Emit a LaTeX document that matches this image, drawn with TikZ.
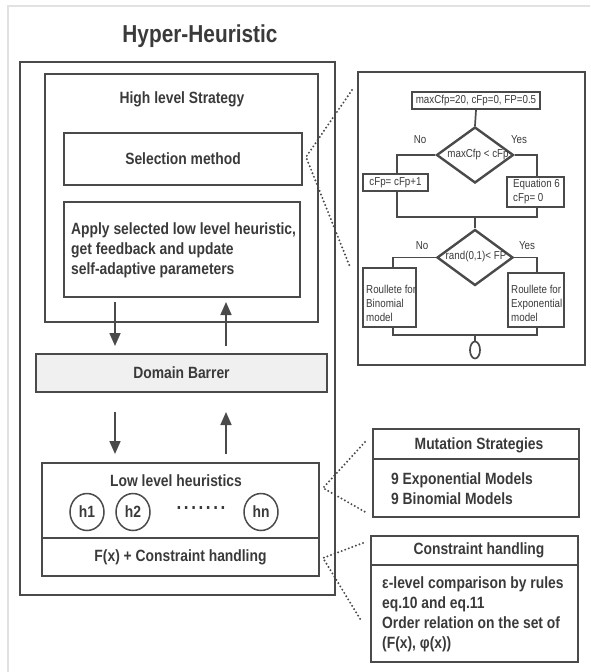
\documentclass[tikz,border=0pt]{standalone}
\usepackage{fontspec}
\setmainfont{Liberation Sans}[FakeStretch=0.85]
\usetikzlibrary{arrows.meta,shapes.geometric}
\definecolor{ln}{HTML}{4A4A4A}
\definecolor{tx}{HTML}{3A3A3A}
\definecolor{frm}{HTML}{E2E2E2}
\definecolor{barfill}{HTML}{F0F0F0}
\begin{document}
\begin{tikzpicture}[x=1pt,y=-1pt,
  every node/.style={text=tx, inner sep=0pt},
  box/.style={draw=ln, line width=2pt, rectangle},
  fbox/.style={draw=ln, line width=1.7pt, rectangle},
  dia/.style={draw=ln, line width=2.4pt, diamond},
  lbl/.style={font=\fontsize{16.3}{20}\selectfont\bfseries},
  flbl/.style={font=\fontsize{11.5}{14}\selectfont},
  arr/.style={draw=ln, line width=1.7pt, -{Triangle[length=13pt,width=11pt]}},
  fl/.style={draw=ln, line width=1.7pt},
  dots/.style={draw=ln, line width=2.2pt, dash pattern=on 0pt off 3.8pt, line cap=round},
  hcirc/.style={draw=ln, line width=1.5pt, ellipse, minimum width=34, minimum height=37, font=\fontsize{16.3}{20}\selectfont\bfseries}
]
\useasboundingbox (0,0) rectangle (590,672);
% light frame
\draw[frm, line width=1.5pt] (8,672) -- (8,6) -- (590,6);

% title
\node[font=\fontsize{24.5}{28}\selectfont\bfseries] (title) at (200,36) {Hyper-Heuristic};

% left structure
\node[box, minimum width=315, minimum height=533] (outer) at (177.5,328.5) {};
\node[box, minimum width=273, minimum height=248] (high) at (181.5,198) {};
\node[lbl] (hightxt) at (182,99) {High level Strategy};
\node[box, minimum width=238, minimum height=52, lbl] (sel) at (183,159) {Selection method};
\node[box, minimum width=236, minimum height=95] (apply) at (182,249.5) {};
\node[lbl, anchor=west, align=left] (applytxt) at (71,250) {Apply selected low level heuristic,\\get feedback and update\\self-adaptive parameters};
\node[box, fill=barfill, minimum width=291, minimum height=38, lbl] (domain) at (181.5,373) {Domain Barrer};
\node[box, minimum width=277, minimum height=75] (low) at (180.5,500.5) {};
\node[lbl] (lowtxt) at (176,481) {Low level heuristics};
\node[hcirc] (h1) at (87,512) {h1};
\node[hcirc] (h2) at (133,512) {h2};
\node[hcirc] (hn) at (261,512) {hn};
\node[font=\fontsize{20}{20}\selectfont\bfseries] (hdots) at (201,508) {.\hspace{2.6pt}.\hspace{2.6pt}.\hspace{2.6pt}.\hspace{2.6pt}.\hspace{2.6pt}.\hspace{2.6pt}.};
\node[box, minimum width=277, minimum height=38, lbl] (fx) at (180.5,557) {F(x) + Constraint handling};

% arrows
\coordinate (a1s) at (115,302); \coordinate (a1e) at (115,346);
\coordinate (a2s) at (226,346); \coordinate (a2e) at (226,302);
\coordinate (a3s) at (115,412); \coordinate (a3e) at (115,454);
\coordinate (a4s) at (226,454); \coordinate (a4e) at (226,412);
\draw[arr] (a1s) -- (a1e);
\draw[arr] (a2s) -- (a2e);
\draw[arr] (a3s) -- (a3e);
\draw[arr] (a4s) -- (a4e);

% flowchart panel
\node[box, minimum width=227, minimum height=293] (panel) at (471.5,218.5) {};
\node[fbox, minimum width=128, minimum height=17, flbl] (init) at (476,100.5) {maxCfp=20, cFp=0, FP=0.5};
\node[dia, minimum width=77, minimum height=56] (d1) at (475,155) {};
\node[flbl] (d1txt) at (478,155) {maxCfp < cFp};
\node[flbl] (no1) at (420,140) {No};
\node[flbl] (yes1) at (519,140) {Yes};
\node[fbox, minimum width=65, minimum height=17, flbl] (b1) at (395.5,182.5) {cFp= cFp+1};
\node[fbox, minimum width=57, minimum height=30] (b2) at (535.5,192) {};
\node[flbl, anchor=west, align=left] (b2txt) at (513,192) {Equation 6\\cFp= 0};
\node[dia, minimum width=76, minimum height=56] (d2) at (475,257.5) {};
\node[flbl] (d2txt) at (476,257) {rand(0,1)< FP};
\node[flbl] (no2) at (422,246) {No};
\node[flbl] (yes2) at (527,246) {Yes};
\node[fbox, minimum width=53, minimum height=59] (b3) at (389.5,297.5) {};
\node[flbl, anchor=west, align=left] (b3txt) at (366,303) {Roullete for\\Binomial\\model};
\node[fbox, minimum width=56, minimum height=54] (b4) at (536,300) {};
\node[flbl, anchor=west, align=left] (b4txt) at (511,303) {Roullete for\\Exponential\\model};
\node[draw=ln, line width=1.7pt, ellipse, minimum width=10, minimum height=17] (endo) at (475,350) {};

\coordinate (m1) at (475,217);
\coordinate (m2) at (475,335);
\draw[fl] (init.south) -- (d1.north);
\draw[fl] (d1.west) -| (b1.north -| 397,0);
\draw[fl] (d1.east) -| (b2.north -| 537,0);
\draw[fl] (b1.south -| 397,0) |- (m1);
\draw[fl] (b2.south -| 537,0) |- (m1);
\draw[fl] (m1) -- (d2.north);
\draw[fl] (d2.west) -| (b3.north -| 393,0);
\draw[fl] (d2.east) -| (b4.north -| 537,0);
\draw[fl] (b3.south -| 393,0) |- (m2);
\draw[fl] (b4.south -| 537,0) |- (m2);
\draw[fl] (m2) -- (endo.north);

% right boxes
\node[box, minimum width=206, minimum height=88] (mut) at (476,473) {};
\draw[draw=ln, line width=1.2pt] (mut.west |- 0,459) -- (mut.east |- 0,459);
\node[lbl] (muthead) at (479,445) {Mutation Strategies};
\node[lbl, anchor=west, align=left] (mutbody) at (391,488.5) {9 Exponential Models\\9 Binomial Models};
\node[box, minimum width=207, minimum height=126] (con) at (474.5,599) {};
\draw[draw=ln, line width=1.2pt] (con.west |- 0,565) -- (con.east |- 0,565);
\node[lbl] (conhead) at (479,550) {Constraint handling};
\node[lbl, anchor=west, align=left] (conbody) at (382,614) {ε-level comparison by rules\\eq.10 and eq.11\\Order relation on the set of\\(F(x), φ(x))};

% dotted zoom lines
\coordinate (s0) at (306,157); \coordinate (s1) at (352,90); \coordinate (s2) at (350,267);
\coordinate (l0) at (323,488); \coordinate (l1) at (365,442); \coordinate (l2) at (367,513);
\coordinate (f0) at (323,558); \coordinate (f1) at (363,543); \coordinate (f2) at (362,622);
\draw[dots] (s1) -- (s0) -- (s2);
\draw[dots] (l1) -- (l0) -- (l2);
\draw[dots] (f1) -- (f0) -- (f2);
\end{tikzpicture}
\end{document}
